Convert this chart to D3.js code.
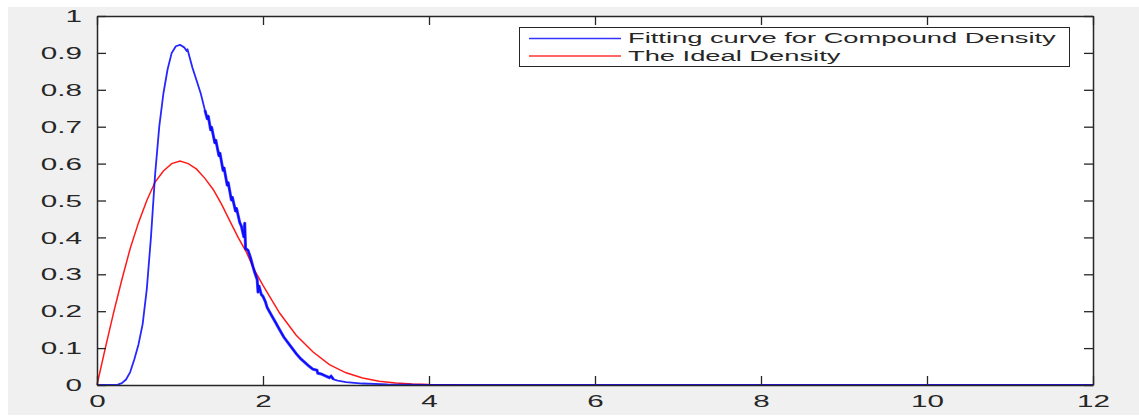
<!DOCTYPE html>
<html>
<head>
<meta charset="utf-8">
<script src="https://cdn.jsdelivr.net/npm/d3@7"></script>
<style>
  body { margin: 0; background: #fff; }
  svg { display: block; }
  text { font-family: "Liberation Sans", Arial, sans-serif; fill: #262626; }
</style>
</head>
<body>
<svg width="1139" height="419"></svg>
<script>
// tick values
var xTicks = [0, 2, 4, 6, 8, 10, 12];
var yTicks = [0, 0.1, 0.2, 0.3, 0.4, 0.5, 0.6, 0.7, 0.8, 0.9, 1];

// legend labels
var seriesNames = ["Fitting curve for Compound Density", "The Ideal Density"];
var seriesColors = ["#0000ff", "#ff0000"];

// blue curve (incl. the jagged bits)
var compound = [
  [0, 0], [0.2, 0], [0.25, 0.001], [0.3, 0.005], [0.35, 0.015], [0.4, 0.035],
  [0.45, 0.07], [0.5, 0.11], [0.55, 0.165], [0.6, 0.26], [0.65, 0.40],
  [0.7, 0.57], [0.75, 0.70], [0.8, 0.79], [0.85, 0.855], [0.9, 0.90],
  [0.95, 0.918], [1.0, 0.922], [1.05, 0.915], [1.08, 0.905], [1.09, 0.91],
  [1.12, 0.885], [1.15, 0.86], [1.2, 0.825], [1.25, 0.79], [1.3, 0.745],
  [1.33, 0.72], [1.34, 0.73], [1.37, 0.69], [1.38, 0.70], [1.42, 0.655],
  [1.43, 0.665], [1.47, 0.62], [1.48, 0.63], [1.52, 0.58], [1.53, 0.59],
  [1.57, 0.54], [1.58, 0.55], [1.62, 0.50], [1.63, 0.51], [1.67, 0.47],
  [1.68, 0.48], [1.72, 0.44], [1.74, 0.43], [1.77, 0.40], [1.78, 0.44],
  [1.79, 0.37], [1.82, 0.365], [1.85, 0.345], [1.88, 0.32], [1.9, 0.305],
  [1.93, 0.285], [1.94, 0.25], [1.95, 0.27], [1.98, 0.245], [2.0, 0.24],
  [2.03, 0.225], [2.05, 0.21], [2.1, 0.19], [2.15, 0.17], [2.2, 0.15],
  [2.25, 0.13], [2.3, 0.115], [2.35, 0.10], [2.4, 0.085], [2.45, 0.072],
  [2.5, 0.062], [2.55, 0.052], [2.6, 0.043], [2.65, 0.04], [2.66, 0.032],
  [2.7, 0.03], [2.75, 0.025], [2.8, 0.02], [2.82, 0.024], [2.85, 0.015],
  [2.9, 0.012], [3.0, 0.008], [3.2, 0.004], [3.5, 0.0015], [4.0, 0],
  [12, 0]
];

// red curve
var ideal = [
  [0, 0], [0.1, 0.10], [0.2, 0.196], [0.3, 0.286], [0.4, 0.37], [0.5, 0.44],
  [0.6, 0.50], [0.7, 0.55], [0.8, 0.58], [0.9, 0.60], [1.0, 0.607],
  [1.1, 0.60], [1.2, 0.585], [1.3, 0.56], [1.4, 0.53], [1.5, 0.49],
  [1.6, 0.445], [1.7, 0.40], [1.8, 0.36], [1.9, 0.31], [2.0, 0.27],
  [2.2, 0.195], [2.4, 0.135], [2.6, 0.09], [2.8, 0.055], [3.0, 0.033],
  [3.2, 0.019], [3.4, 0.01], [3.6, 0.0055], [3.8, 0.0028], [4.0, 0.0013],
  [4.5, 0.0002], [5, 0], [12, 0]
];

var svg = d3.select("svg");

// grey figure background
svg.append("rect").attr("x", 8).attr("y", 7).attr("width", 1131).attr("height", 408).attr("fill", "#f0f0f0");

var pl = 97, pr = 1093, pt = 16, pb = 385;
var x = d3.scaleLinear().domain([0, 12]).range([pl, pr]);
var y = d3.scaleLinear().domain([0, 1]).range([pb, pt]);

svg.append("rect").attr("x", pl).attr("y", pt).attr("width", pr - pl).attr("height", pb - pt).attr("fill", "#fff");

var line = d3.line().x(function(d) { return x(d[0]); }).y(function(d) { return y(d[1]); });

svg.append("path").datum(ideal).attr("d", line).attr("fill", "none").attr("stroke", seriesColors[1]).attr("stroke-width", 1.5).attr("stroke-opacity", 0.9);
svg.append("path").datum(compound).attr("d", line).attr("fill", "none").attr("stroke", seriesColors[0]).attr("stroke-width", 1.8).attr("stroke-linejoin", "round").attr("stroke-opacity", 0.85);
// the noisy stretch looks like a thicker band in the original
svg.append("path").datum(compound.filter(function(d) { return d[0] >= 1.3 && d[0] <= 2.85; }))
  .attr("d", line).attr("fill", "none").attr("stroke", seriesColors[0]).attr("stroke-width", 3).attr("stroke-opacity", 0.7);

// axes, MATLAB box style with inward ticks
function styleAxis(g) {
  g.selectAll("path.domain").attr("stroke", "#262626").attr("stroke-width", 1.5);
  g.selectAll(".tick line").attr("stroke", "#262626").attr("stroke-width", 1.3);
}

var gx = svg.append("g").attr("transform", "translate(0," + pb + ")")
  .call(d3.axisBottom(x).tickValues(xTicks).tickSize(-9).tickSizeOuter(0).tickFormat(d3.format("d")));
gx.call(styleAxis);
gx.selectAll(".tick text")
  .attr("font-size", 16)
  .attr("y", 0).attr("dy", null)
  .attr("transform", "translate(0,22) scale(1.85,1)");

var gy = svg.append("g").attr("transform", "translate(" + pl + ",0)")
  .call(d3.axisLeft(y).tickValues(yTicks).tickSize(-9).tickSizeOuter(0).tickFormat(function(d) { return d === 0 || d === 1 ? d : d3.format(".1f")(d); }));
gy.call(styleAxis);
gy.selectAll(".tick text")
  .attr("font-size", 16)
  .attr("x", 0).attr("dy", "0.35em")
  .attr("transform", "translate(-15,0) scale(1.85,1)");

var gt = svg.append("g").attr("transform", "translate(0," + pt + ")")
  .call(d3.axisTop(x).tickValues(xTicks).tickSize(-9).tickSizeOuter(0).tickFormat(""));
gt.call(styleAxis);

var gr = svg.append("g").attr("transform", "translate(" + pr + ",0)")
  .call(d3.axisRight(y).tickValues(yTicks).tickSize(-9).tickSizeOuter(0).tickFormat(""));
gr.call(styleAxis);

// legend
var legend = svg.append("g");
legend.append("rect").attr("x", 519.5).attr("y", 27.5).attr("width", 550).attr("height", 39)
  .attr("fill", "#fff").attr("stroke", "#262626").attr("stroke-width", 1);

seriesNames.forEach(function(name, i) {
  var ly = 38.5 + i * 17.5;
  legend.append("line").attr("x1", 529).attr("x2", 621).attr("y1", ly).attr("y2", ly)
    .attr("stroke", seriesColors[i]).attr("stroke-width", 1.3).attr("stroke-opacity", 0.8);
  legend.append("text").attr("font-size", 14).attr("dy", "0.35em")
    .attr("transform", "translate(628," + ly + ") scale(1.95,1)")
    .text(name);
});
</script>
</body>
</html>
